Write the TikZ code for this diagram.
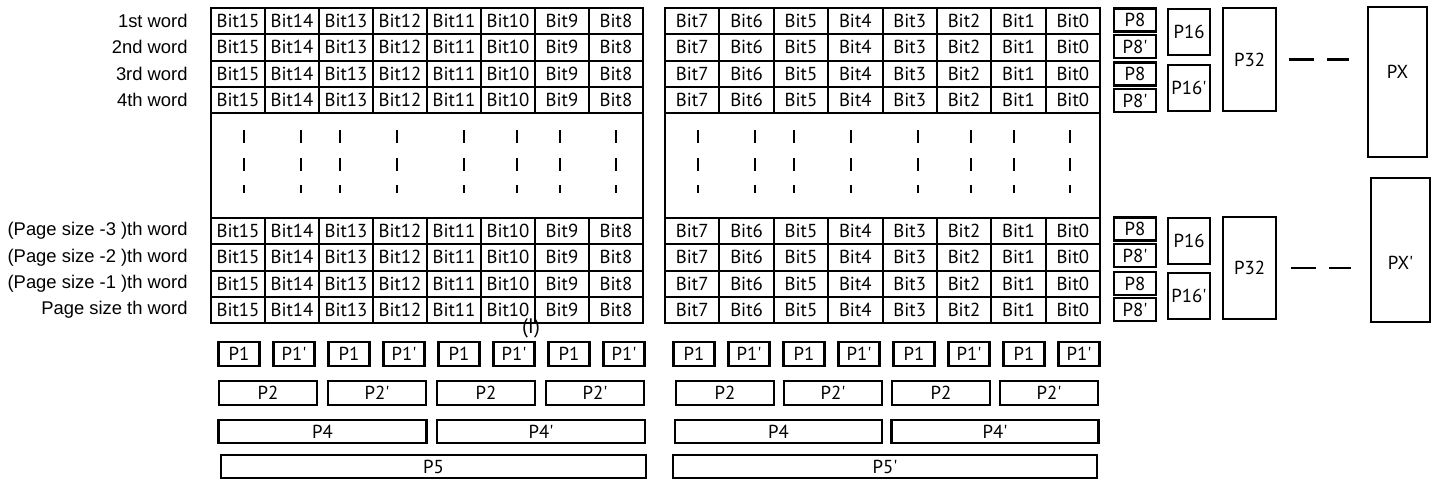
\documentclass[tikz,border=0pt]{standalone}
\usepackage{fontspec}
\newfontfamily\cellfont{PT Sans}
\newfontfamily\labelfont{Liberation Sans}

\begin{document}
\begin{tikzpicture}[
  x=0.5pt, y=-0.5pt,
  bitcell/.style={draw, line width=1pt, inner sep=0pt, minimum height=13.1pt, font=\cellfont\fontsize{9.4}{10}\selectfont},
  wordlabel/.style={anchor=east, inner sep=0pt, font=\labelfont\fontsize{9.2}{11}\selectfont},
  gapbox/.style={draw, line width=1pt, minimum height=52.5pt},
  tick/.style={line width=1pt},
  pbox/.style={draw, line width=1.25pt, inner sep=0pt, font=\cellfont\fontsize{9.4}{10}\selectfont},
  ptext/.style={inner sep=0pt, font=\cellfont\fontsize{9.4}{10}\selectfont},
  gapdash/.style={line width=1.25pt, dash pattern=on 12.5pt off 6.5pt},
]
\useasboundingbox (0,0) rectangle (1436,479);

% bit cells of every word row
\foreach \r/\y in {0/21.1,1/47.4,2/73.6,3/99.9,4/231.1,5/257.4,6/283.6,7/309.9}{
  \foreach \c in {0,...,7}{
    \pgfmathtruncatemacro{\hb}{15-\c}
    \pgfmathtruncatemacro{\lb}{7-\c}
    \node[bitcell, minimum width=27pt] (hi-\r-\c) at ({238+54*\c},\y) {Bit\hb};
    \node[bitcell, minimum width=27.19pt] (lo-\r-\c) at ({692.2+54.375*\c},\y) {Bit\lb};
  }
}

% word labels
\foreach \y/\txt [count=\i] in {21.1/1st word, 47.4/2nd word, 73.6/3rd word, 99.9/4th word,
  231.1/(Page size -3 )th word, 257.4/(Page size -2 )th word, 283.6/(Page size -1 )th word, 309.9/Page size th word}
  \node[wordlabel] (word-\i) at (188,\y) {\txt};

% skipped words
\node[gapbox, minimum width=216pt] (gapL) at (427,165.5) {};
\node[gapbox, minimum width=217.5pt] (gapR) at (882.5,165.5) {};
\foreach \dx in {33,90,129,186,253,306,349,405}{
  \foreach \x in {211,665}{
    \draw[tick] (\x+\dx,130) -- (\x+\dx,143);
    \draw[tick] (\x+\dx,158) -- (\x+\dx,171);
    \draw[tick] (\x+\dx,185) -- (\x+\dx,193);
  }
}
\node[ptext, font=\cellfont\fontsize{10.5}{12}\selectfont] (half) at (531,328) {(I)};

% row parities
\foreach \y/\t [count=\i] in {20/P8,46.5/P8',74/P8,100.5/P8',229/P8,255.5/P8',283.5/P8,309.5/P8'}
  \node[pbox, minimum width=21pt, minimum height=11.5pt] (p8-\i) at (1135,\y) {\t};
\foreach \y/\t [count=\i] in {32/P16,88/P16',241/P16,296/P16'}
  \node[pbox, minimum width=21pt, minimum height=23pt] (p16-\i) at (1189,\y) {\t};
\node[pbox, minimum width=26.5pt, minimum height=51.5pt] (p32-1) at (1249.5,59.5) {P32};
\node[pbox, minimum width=26.5pt, minimum height=51pt] (p32-2) at (1249.5,268) {P32};
\node[pbox, minimum width=29.5pt, minimum height=75pt] (px-1) at (1397.5,82) {};
\node[pbox, minimum width=29.5pt, minimum height=72pt] (px-2) at (1400.5,250) {};
\node[ptext] (pxt-1) at ([yshift=5pt]px-1.center) {PX};
\node[ptext] (pxt-2) at ([yshift=-6.5pt]px-2.center) {PX'};
\draw[gapdash, shorten <=6pt, shorten >=9pt] (p32-1.east) -- (p32-1.east -| px-1.west);
\draw[gapdash, shorten <=7pt, shorten >=9.5pt] (p32-2.east) -- (p32-2.east -| px-2.west);

% column parities
\foreach \c/\t in {0/P1,1/P1',2/P1,3/P1',4/P1,5/P1',6/P1,7/P1'}{
  \node[pbox, minimum width=20.5pt, minimum height=12pt] (p1h-\c) at ({239+55*\c},354) {\t};
  \node[pbox, minimum width=20.5pt, minimum height=12pt] (p1l-\c) at ({694+55*\c},354) {\t};
}
\foreach \c/\t in {0/P2,1/P2',2/P2,3/P2'}{
  \node[pbox, minimum width=49pt, minimum height=12pt] (p2h-\c) at ({268+109*\c},393) {\t};
  \node[pbox, minimum width=49pt, minimum height=12pt] (p2l-\c) at ({725+108*\c},393) {\t};
}
\foreach \c/\t in {0/P4,1/P4'}{
  \node[pbox, minimum width=104pt, minimum height=11.5pt] (p4h-\c) at ({322.5+218.5*\c},431.5) {\t};
  \node[pbox, minimum width=103.5pt, minimum height=11.5pt] (p4l-\c) at ({778.5+216.5*\c},431.5) {\t};
}
\node[pbox, minimum width=212.5pt, minimum height=11.5pt] (p5h) at (433.5,466.5) {P5};
\node[pbox, minimum width=212pt, minimum height=11.5pt] (p5l) at (885,466.5) {P5'};
\end{tikzpicture}
\end{document}
